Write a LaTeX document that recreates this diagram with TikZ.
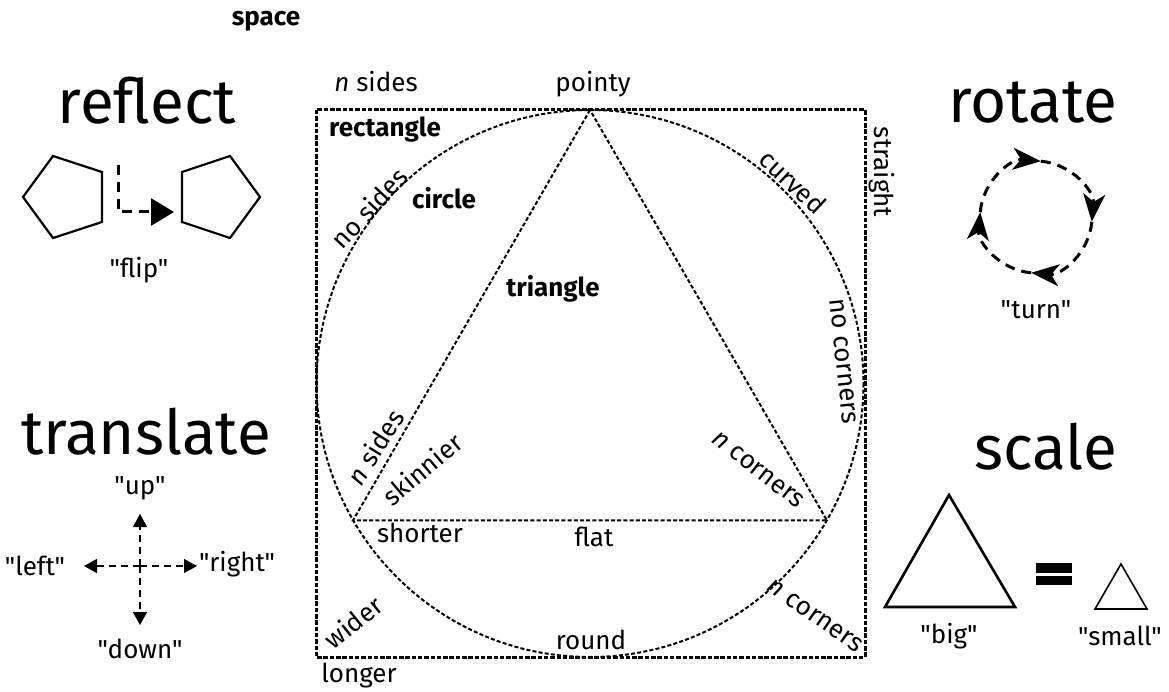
\documentclass[tikz,border=0pt]{standalone}
\usepackage{fontspec}
\setmainfont{Fira Sans}[Ligatures=TeXOff]
\usetikzlibrary{arrows.meta}
\begin{document}
\begin{tikzpicture}[x=1pt,y=-1pt,
  lbl/.style={font=\fontsize{26}{30}\selectfont, inner sep=0pt},
  blbl/.style={font=\fontsize{26}{30}\selectfont\bfseries, inner sep=0pt},
  ttl/.style={font=\fontsize{62}{70}\selectfont, inner sep=0pt},
  boxline/.style={line width=3pt, dash pattern=on 4.5pt off 1.8pt},
  thinline/.style={line width=2pt, dash pattern=on 4pt off 2.2pt},
  solidshape/.style={line width=2.2pt, line join=miter},
  fliparrow/.style={line width=3pt, dash pattern=on 10pt off 7pt, -{Triangle[length=23pt,width=27pt]}},
  turnarrow/.style={line width=3pt, dash pattern=on 10pt off 7pt, -{Stealth[length=28pt,width=22pt,inset=8pt]}},
  movearrow/.style={line width=1.3pt, dash pattern=on 7pt off 5pt, -{Triangle[length=13pt,width=14pt]}}
]
\useasboundingbox (0,0) rectangle (1169,692);
\fill[white] (0,0) rectangle (1169,692);

% ---------- central figure ----------
\coordinate (C) at (590,383.5);
\draw[boxline] (316,110) rectangle (865,657);
\draw[thinline] (C) circle (273.5);
\path (C) ++(-90:273.5) coordinate (Ta);
\path (C) ++(150:273.5) coordinate (Tb);
\path (C) ++(30:273.5) coordinate (Tc);
\draw[thinline, line join=miter] (Ta) -- (Tb) -- (Tc) -- cycle;

\node[blbl] (space) at (266,21) {space};
\node[lbl] (nsidestop) at (376,82) {\itshape n\upshape{} sides};
\node[lbl] (pointy) at (593,84) {pointy};
\node[blbl] (rect) at (385,130) {rectangle};
\node[blbl] (circ) at (444,198) {circle};
\node[blbl] (tri) at (553,289) {triangle};
\node[lbl, rotate=-43] (curved) at (793,182) {curved};
\node[lbl, rotate=-90] (straight) at (882,172) {straight};
\node[lbl, rotate=47] (nosides) at (369,208) {no sides};
\node[lbl, rotate=-84] (nocorners) at (843,361) {no corners};
\node[lbl, rotate=58] (nsidesleft) at (375,447) {\itshape n\upshape{} sides};
\node[lbl, rotate=40] (skinnier) at (422,469) {skinnier};
\node[lbl, rotate=-38] (ncornersin) at (758,470) {\itshape n\upshape{} corners};
\node[lbl] (shorter) at (420,533) {shorter};
\node[lbl] (flat) at (594,537) {flat};
\node[lbl, rotate=39] (wider) at (353,622) {wider};
\node[lbl] (round) at (591,640) {round};
\node[lbl, rotate=-35] (ncornersout) at (815,616) {\itshape n\upshape{} corners};
\node[lbl] (longer) at (359,676) {longer};

% ---------- reflect ----------
\node[ttl] (reflect) at (147,101) {reflect};
\draw[solidshape] (23,197) -- (53,156) -- (102,172) -- (102,222) -- (53,238) -- cycle;
\draw[solidshape] (260,197) -- (230,156) -- (182,172) -- (182,222) -- (230,238) -- cycle;
\coordinate (fa) at (118,165);
\coordinate (fb) at (118,212);
\coordinate (fc) at (174,212);
\draw[fliparrow] (fa) -- (fb) -- (fc);
\node[lbl] (flip) at (139,270) {"flip"};

% ---------- rotate ----------
\node[ttl] (rotate) at (1033,103) {rotate};
\coordinate (R) at (1036,217);
\draw[turnarrow] (R) ++(275:56) arc[start angle=275, end angle=365, radius=56];
\draw[turnarrow] (R) ++(5:56) arc[start angle=5, end angle=95, radius=56];
\draw[turnarrow] (R) ++(95:56) arc[start angle=95, end angle=185, radius=56];
\draw[turnarrow] (R) ++(185:56) arc[start angle=185, end angle=275, radius=56];
\node[lbl] (turn) at (1036,310) {"turn"};

% ---------- translate ----------
\node[ttl] (translate) at (146,432) {translate};
\coordinate (O) at (140,566);
\coordinate (up) at (140,514);
\coordinate (dn) at (140,625);
\coordinate (lf) at (84,566);
\coordinate (rt) at (197,566);
\draw[movearrow] (O) -- (up);
\draw[movearrow] (O) -- (dn);
\draw[movearrow] (O) -- (lf);
\draw[movearrow] (O) -- (rt);
\node[lbl] (uplbl) at (140,488) {"up"};
\node[lbl] (leftlbl) at (35,566) {"left"};
\node[lbl] (rightlbl) at (237,564) {"right"};
\node[lbl] (downlbl) at (140,649) {"down"};

% ---------- scale ----------
\node[ttl] (scale) at (1046,447) {scale};
\draw[solidshape, line width=2.6pt] (949,495) -- (1015,607) -- (885,607) -- cycle;
\fill (1036,563) rectangle (1072,573);
\fill (1036,576) rectangle (1072,585);
\draw[line width=1.6pt] (1121,564) -- (1147,609) -- (1095,609) -- cycle;
\node[lbl] (big) at (949,636) {"big"};
\node[lbl] (small) at (1120,636) {"small"};
\end{tikzpicture}
\end{document}
